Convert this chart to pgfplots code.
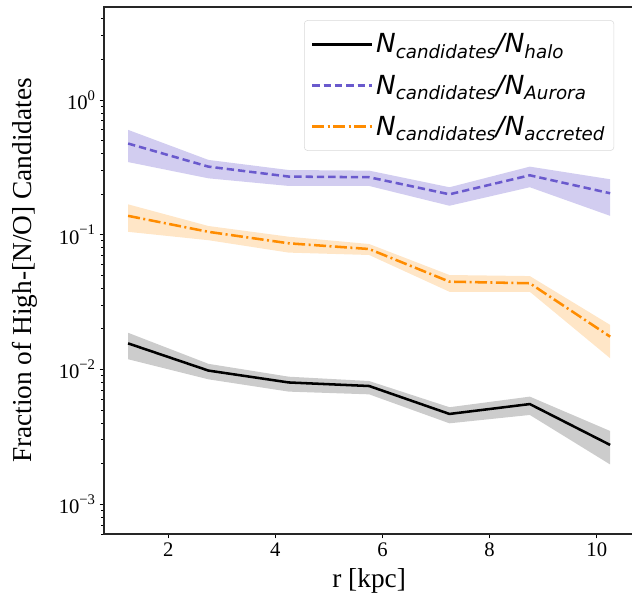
\documentclass[border=0pt]{standalone}
\usepackage{fontspec}
\setmainfont{Liberation Serif}
\newfontfamily\djv{DejaVu Sans}
\usepackage{pgfplots}
\pgfplotsset{compat=1.18}
\usepackage{pgfplotstable}
\definecolor{aur}{HTML}{6A5ACD}
\definecolor{acc}{HTML}{FF8C00}
\newcommand\sub[1]{\raisebox{-0.22em}{\fontsize{13.7}{15}\selectfont #1}}
\newcommand\lab[2]{N\sub{#1}/N\sub{#2}}

\pgfplotstableread{
x halo aur acc
1.25 0.0156 0.475 0.138
2.75 0.0098 0.320 0.105
4.25 0.0080 0.270 0.0863
5.75 0.00753 0.267 0.0783
7.25 0.00467 0.1995 0.0448
8.75 0.00553 0.276 0.0436
10.25 0.00275 0.203 0.0175
}\lines
% bands: upper edge left to right, then lower edge right to left
\pgfplotstableread{
x y
1.25 0.0187
2.75 0.0110
4.25 0.00883
5.75 0.0082
7.25 0.00524
8.75 0.00628
10.25 0.00349
10.25 0.00197
8.75 0.00459
7.25 0.00398
5.75 0.00653
4.25 0.00684
2.75 0.00844
1.25 0.0119
}\haloband
\pgfplotstableread{
x y
1.25 0.60
2.75 0.359
4.25 0.302
5.75 0.299
7.25 0.225
8.75 0.320
10.25 0.258
10.25 0.138
8.75 0.225
7.25 0.164
5.75 0.230
4.25 0.230
2.75 0.262
1.25 0.346
}\aurband
\pgfplotstableread{
x y
1.25 0.168
2.75 0.116
4.25 0.0966
5.75 0.0853
7.25 0.0502
8.75 0.0493
10.25 0.0214
10.25 0.0121
8.75 0.0377
7.25 0.0377
5.75 0.0707
4.25 0.0736
2.75 0.091
1.25 0.105
}\accband

\begin{document}
\begin{tikzpicture}
\path[use as bounding box] (0pt,0pt) rectangle (474pt,-454.5pt);
\begin{axis}[
  at={(78pt,-400.5pt)}, anchor=south west,
  scale only axis, width=397.7pt, height=395.25pt,
  xmin=0.8, xmax=10.7,
  ymode=log, log basis y=10, ymin=6e-4, ymax=4.9,
  xtick={2,4,6,8,10},
  xtick pos=lower, ytick pos=left,
  tick align=outside,
  major tick length=3.2pt, minor tick length=2pt,
  every tick/.style={black, line width=0.6pt},
  axis line style={line width=0.8pt, black!85},
  /pgf/number format/assume math mode=true,
  ticklabel style={font=\fontsize{15.5}{18}\selectfont},
  yticklabel={\pgfmathtruncatemacro\e{round(\tick)}10\raisebox{0.45em}{\fontsize{11}{12}\selectfont\ifnum\e<0 −\number-\e\else\e\fi}},
  xlabel={r [kpc]},
  ylabel={Fraction of High-[N/O] Candidates},
  label style={font=\fontsize{20.5}{24}\selectfont},
  xlabel style={at={(axis description cs:0.5,-0.1006)}, anchor=base},
  ylabel style={at={(axis description cs:-0.1358,0.5)}, anchor=base},
  legend cell align=left,
  legend image code/.code={\draw[#1] (0pt,0pt) -- (41pt,0pt); \path (0pt,0pt) -- (45pt,0pt);},
  legend style={at={(0.962,0.975)}, anchor=north east, draw=black!15,
    rounded corners=2.5pt, fill=white, fill opacity=0.8, text opacity=1,
    inner xsep=5pt, inner ysep=8pt, row sep=11pt,
    font=\djv\itshape\fontsize{19.7}{22}\selectfont},
]
% bands
\addplot[draw=none, fill=black, fill opacity=0.2, forget plot] table[x=x,y=y]{\haloband} -- cycle;
\addplot[draw=none, fill=aur, fill opacity=0.3, forget plot] table[x=x,y=y]{\aurband} -- cycle;
\addplot[draw=none, fill=acc, fill opacity=0.22, forget plot] table[x=x,y=y]{\accband} -- cycle;
% lines
\addplot[black, line width=1.9pt, no marks] table[x=x,y=halo]{\lines};
\addlegendentry{\lab{candidates}{halo}}
\addplot[aur, line width=1.9pt, no marks, dash pattern=on 5.5pt off 3pt] table[x=x,y=aur]{\lines};
\addlegendentry{\lab{candidates}{Aurora}}
\addplot[acc, line width=1.9pt, no marks, dash pattern=on 9pt off 2.6pt on 1.5pt off 2.6pt] table[x=x,y=acc]{\lines};
\addlegendentry{\lab{candidates}{accreted}}
\end{axis}
\end{tikzpicture}
\end{document}
